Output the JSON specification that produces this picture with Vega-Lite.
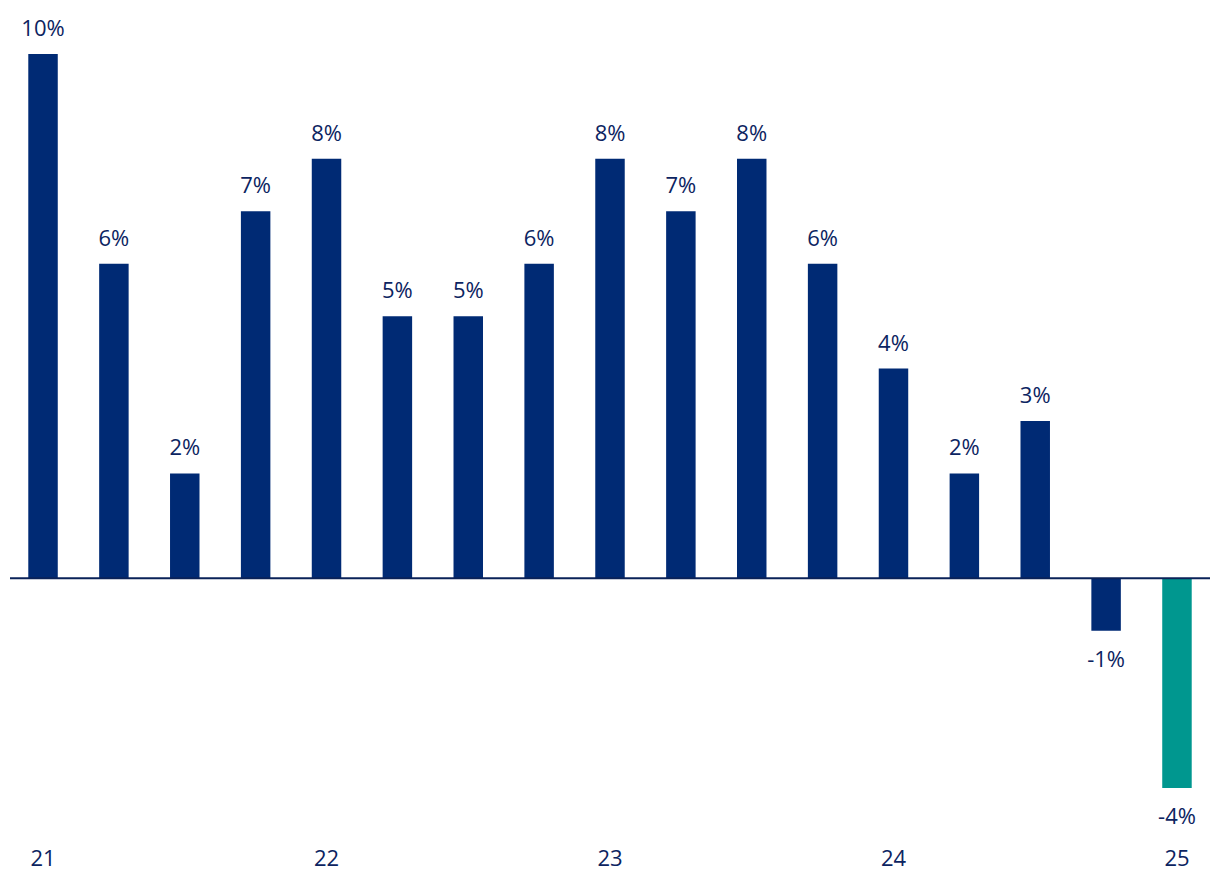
{
  "$schema": "https://vega.github.io/schema/vega-lite/v6.json",
  "width": 1200,
  "height": 734,
  "autosize": {"type": "none"},
  "padding": {"left": 10, "right": 10, "top": 54, "bottom": 108},
  "background": "white",
  "config": {"view": {"stroke": null}, "font": "Open Sans"},
  "data": {
    "values": [
      {"q": "21 Q1", "v": 10, "s": "a"},
      {"q": "21 Q2", "v": 6, "s": "a"},
      {"q": "21 Q3", "v": 2, "s": "a"},
      {"q": "21 Q4", "v": 7, "s": "a"},
      {"q": "22 Q1", "v": 8, "s": "a"},
      {"q": "22 Q2", "v": 5, "s": "a"},
      {"q": "22 Q3", "v": 5, "s": "a"},
      {"q": "22 Q4", "v": 6, "s": "a"},
      {"q": "23 Q1", "v": 8, "s": "a"},
      {"q": "23 Q2", "v": 7, "s": "a"},
      {"q": "23 Q3", "v": 8, "s": "a"},
      {"q": "23 Q4", "v": 6, "s": "a"},
      {"q": "24 Q1", "v": 4, "s": "a"},
      {"q": "24 Q2", "v": 2, "s": "a"},
      {"q": "24 Q3", "v": 3, "s": "a"},
      {"q": "24 Q4", "v": -1, "s": "a"},
      {"q": "25 Q1", "v": -4, "s": "b"}
    ]
  },
  "transform": [
    {"calculate": "toString(datum.v) + '%'", "as": "label"}
  ],
  "layer": [
    {
      "mark": {"type": "bar"},
      "encoding": {
        "x": {
          "field": "q",
          "type": "ordinal",
          "sort": null,
          "scale": {"paddingInner": 0.584, "paddingOuter": 0.258},
          "axis": {
            "title": null,
            "domain": false,
            "ticks": false,
            "labelAngle": 0,
            "labelOverlap": false,
            "labelFont": "Open Sans",
            "labelFontSize": 22,
            "labelColor": "#0c2461",
            "labelBaseline": "alphabetic",
            "labelPadding": 77,
            "labelExpr": "slice(datum.value, 3) == 'Q1' ? slice(datum.value, 0, 2) : ''"
          }
        },
        "y": {
          "field": "v",
          "type": "quantitative",
          "scale": {"domain": [-4, 10], "nice": false, "zero": true},
          "axis": null
        },
        "color": {
          "field": "s",
          "type": "nominal",
          "scale": {"domain": ["a", "b"], "range": ["#002a74", "#00978f"]},
          "legend": null
        }
      }
    },
    {
      "data": {"values": [{"z": 0}]},
      "mark": {"type": "rule", "color": "#0a2258", "strokeWidth": 2},
      "encoding": {"y": {"field": "z", "type": "quantitative"}}
    },
    {
      "transform": [{"filter": "datum.v >= 0"}],
      "mark": {
        "type": "text",
        "font": "Open Sans",
        "fontSize": 22,
        "color": "#0c2461",
        "baseline": "alphabetic",
        "align": "center",
        "dy": -18
      },
      "encoding": {
        "x": {"field": "q", "type": "ordinal", "sort": null},
        "y": {"field": "v", "type": "quantitative"},
        "text": {"field": "label"}
      }
    },
    {
      "transform": [{"filter": "datum.v < 0"}],
      "mark": {
        "type": "text",
        "font": "Open Sans",
        "fontSize": 22,
        "color": "#0c2461",
        "baseline": "alphabetic",
        "align": "center",
        "dy": 36
      },
      "encoding": {
        "x": {"field": "q", "type": "ordinal", "sort": null},
        "y": {"field": "v", "type": "quantitative"},
        "text": {"field": "label"}
      }
    }
  ]
}
